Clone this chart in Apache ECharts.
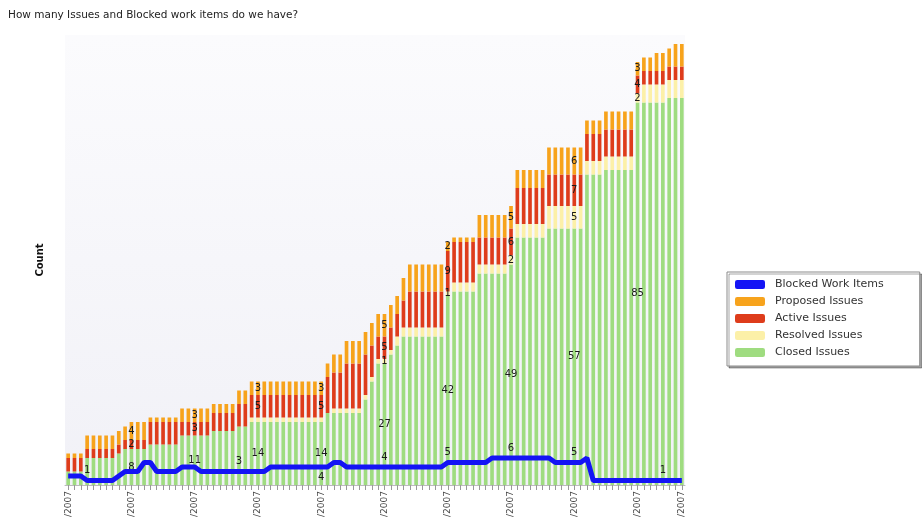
<!DOCTYPE html>
<html>
<head>
<meta charset="utf-8">
<script src="https://cdn.jsdelivr.net/npm/echarts@6/dist/echarts.min.js"></script>
<style>
  html, body { margin: 0; padding: 0; background: #ffffff; }
  #chart { width: 922px; height: 517px; }
</style>
</head>
<body>
<div id="chart"></div>
<script>
// Daily snapshot dates
const categories = [
  '1/1/2007','1/2/2007','1/3/2007','1/4/2007','1/5/2007','1/6/2007','1/7/2007','1/8/2007','1/9/2007','1/10/2007',
  '1/11/2007','1/12/2007','1/13/2007','1/14/2007','1/15/2007','1/16/2007','1/17/2007','1/18/2007','1/19/2007','1/20/2007',
  '1/21/2007','1/22/2007','1/23/2007','1/24/2007','1/25/2007','1/26/2007','1/27/2007','1/28/2007','1/29/2007','1/30/2007',
  '1/31/2007','2/1/2007','2/2/2007','2/3/2007','2/4/2007','2/5/2007','2/6/2007','2/7/2007','2/8/2007','2/9/2007',
  '2/10/2007','2/11/2007','2/12/2007','2/13/2007','2/14/2007','2/15/2007','2/16/2007','2/17/2007','2/18/2007','2/19/2007',
  '2/20/2007','2/21/2007','2/22/2007','2/23/2007','2/24/2007','2/25/2007','2/26/2007','2/27/2007','2/28/2007','3/1/2007',
  '3/2/2007','3/3/2007','3/4/2007','3/5/2007','3/6/2007','3/7/2007','3/8/2007','3/9/2007','3/10/2007','3/11/2007',
  '3/12/2007','3/13/2007','3/14/2007','3/15/2007','3/16/2007','3/17/2007','3/18/2007','3/19/2007','3/20/2007','3/21/2007',
  '3/22/2007','3/23/2007','3/24/2007','3/25/2007','3/26/2007','3/27/2007','3/28/2007','3/29/2007','3/30/2007','3/31/2007',
  '4/1/2007','4/2/2007','4/3/2007','4/4/2007','4/5/2007','4/6/2007','4/7/2007','4/8/2007'
];

const closedIssues = [
  3,3,3,6,6,6,6,6,7,8,
  8,8,8,9,9,9,9,9,11,11,
  11,11,11,12,12,12,12,13,13,14,
  14,14,14,14,14,14,14,14,14,14,
  14,16,16,16,16,16,16,19,23,27,
  27,29,31,33,33,33,33,33,33,33,
  42,43,43,43,43,47,47,47,47,47,
  49,55,55,55,55,55,57,57,57,57,
  57,57,69,69,69,70,70,70,70,70,
  85,85,85,85,85,86,86,86
];

const resolvedIssues = [
  0,0,0,0,0,0,0,0,0,0,
  0,0,0,0,0,0,0,0,0,0,
  0,0,0,0,0,0,0,0,0,1,
  1,1,1,1,1,1,1,1,1,1,
  1,0,1,1,1,1,1,1,1,1,
  1,1,2,2,2,2,2,2,2,2,
  1,2,2,2,2,2,2,2,2,2,
  2,3,3,3,3,3,5,5,5,5,
  5,5,3,3,3,3,3,3,3,3,
  2,4,4,4,4,4,4,4
];

const activeIssues = [
  3,3,3,2,2,2,2,2,2,2,
  2,2,2,5,5,5,5,5,3,3,
  3,3,3,4,4,4,4,5,5,5,
  5,5,5,5,5,5,5,5,5,5,
  5,8,8,8,10,10,10,9,7,5,
  5,5,5,6,8,8,8,8,8,8,
  9,9,9,9,9,6,6,6,6,6,
  6,8,8,8,8,8,7,7,7,7,
  7,7,6,6,6,6,6,6,6,6,
  4,3,3,3,3,3,3,3
];

const proposedIssues = [
  1,1,1,3,3,3,3,3,3,3,
  4,4,4,1,1,1,1,1,3,3,
  3,3,3,2,2,2,2,3,3,3,
  3,3,3,3,3,3,3,3,3,3,
  3,3,4,4,5,5,5,5,5,5,
  5,5,4,5,6,6,6,6,6,6,
  2,1,1,1,1,5,5,5,5,5,
  5,4,4,4,4,4,6,6,6,6,
  6,6,3,3,3,4,4,4,4,4,
  3,3,3,4,4,4,5,5
];

const blockedWorkItems = [
  2,2,2,1,1,1,1,1,2,3,
  3,3,5,5,3,3,3,3,4,4,
  4,3,3,3,3,3,3,3,3,3,
  3,3,4,4,4,4,4,4,4,4,
  4,4,5,5,4,4,4,4,4,4,
  4,4,4,4,4,4,4,4,4,4,
  5,5,5,5,5,5,5,6,6,6,
  6,6,6,6,6,6,6,5,5,5,
  5,5,6,1,1,1,1,1,1,1,
  1,1,1,1,1,1,1,1
];

// Which days carry a value label, per series
const closedLabelDays = [10, 20, 30, 40, 50, 60, 70, 80, 90];
const resolvedLabelDays = [50, 60, 70, 80, 90];
const activeLabelDays = [10, 20, 30, 40, 50, 60, 70, 80, 90];
const proposedLabelDays = [10, 20, 30, 40, 50, 60, 70, 80, 90];
const blockedLabelDays = [3, 27, 40, 50, 60, 70, 80, 94];
const blockedLabelsBelow = [40];

const FONT = 'DejaVu Sans';
const BLUE = '#1414f5';

function labelled(values, days) {
  return values.map((v, i) => days.includes(i) ? { value: v, label: { show: true } } : v);
}

function barSeries(name, values, days, color) {
  return {
    name: name,
    type: 'bar',
    stack: 'issues',
    barCategoryGap: '42%',
    itemStyle: { color: color },
    label: {
      show: false,
      position: 'inside',
      color: '#1a1a1a',
      fontSize: 10,
      fontFamily: FONT
    },
    emphasis: { disabled: true },
    data: labelled(values, days)
  };
}

const blockedData = blockedWorkItems.map((v, i) => {
  if (!blockedLabelDays.includes(i)) return v;
  return {
    value: v,
    label: { show: true, position: blockedLabelsBelow.includes(i) ? 'bottom' : 'top', distance: 5 }
  };
});

const chart = echarts.init(document.getElementById('chart'), null, { renderer: 'canvas' });

chart.setOption({
  animation: false,
  backgroundColor: '#ffffff',
  title: {
    text: 'How many Issues and Blocked work items do we have?',
    left: 3,
    top: 5,
    textStyle: { fontSize: 10.5, fontWeight: 'normal', color: '#222', fontFamily: FONT }
  },
  legend: {
    orient: 'vertical',
    left: 727,
    top: 272,
    data: ['Blocked Work Items', 'Proposed Issues', 'Active Issues', 'Resolved Issues', 'Closed Issues'],
    icon: 'roundRect',
    itemWidth: 30,
    itemHeight: 9,
    itemGap: 6,
    padding: [7, 36, 8, 8],
    borderColor: '#8a8a8a',
    borderWidth: 1,
    backgroundColor: '#ffffff',
    shadowColor: 'rgba(0,0,0,0.35)',
    shadowOffsetX: 2,
    shadowOffsetY: 2,
    textStyle: { fontSize: 11, color: '#333', fontFamily: FONT, padding: [0, 0, 0, 5] }
  },
  grid: {
    left: 65,
    right: 237,
    top: 35,
    bottom: 32,
    outerBoundsMode: 'none',
    containLabel: false,
    show: true,
    borderWidth: 0,
    backgroundColor: {
      type: 'linear', x: 0, y: 0, x2: 0, y2: 1,
      colorStops: [
        { offset: 0, color: '#fbfbfd' },
        { offset: 1, color: '#f1f1f7' }
      ]
    }
  },
  xAxis: {
    type: 'category',
    data: categories,
    axisLine: { show: true, lineStyle: { color: '#bbbbbb' } },
    axisTick: { show: true, interval: 0, alignWithLabel: true, length: 5, lineStyle: { color: '#999999' } },
    axisLabel: {
      interval: (index) => index % 10 === 0 || index === categories.length - 1,
      rotate: 90,
      fontSize: 9,
      color: '#444',
      fontFamily: FONT,
      margin: 6
    }
  },
  yAxis: {
    type: 'value',
    min: 0,
    max: 100,
    name: 'Count',
    nameLocation: 'middle',
    nameGap: 20,
    nameRotate: 90,
    nameTextStyle: { fontSize: 10, fontWeight: 'bold', color: '#111', fontFamily: FONT },
    axisLine: { show: false },
    axisTick: { show: false },
    axisLabel: { show: false },
    splitLine: { show: false }
  },
  series: [
    barSeries('Closed Issues', closedIssues, closedLabelDays, '#9fdc80'),
    barSeries('Resolved Issues', resolvedIssues, resolvedLabelDays, '#fcf0a8'),
    barSeries('Active Issues', activeIssues, activeLabelDays, '#de3c1b'),
    barSeries('Proposed Issues', proposedIssues, proposedLabelDays, '#f7a31c'),
    {
      name: 'Blocked Work Items',
      type: 'line',
      data: blockedData,
      symbol: 'circle',
      symbolSize: 0.01,
      showSymbol: true,
      lineStyle: { color: BLUE, width: 5 },
      itemStyle: { color: BLUE },
      label: { show: false, color: '#1a1a1a', fontSize: 10, fontFamily: FONT },
      emphasis: { disabled: true },
      z: 5
    }
  ]
});
</script>
</body>
</html>
